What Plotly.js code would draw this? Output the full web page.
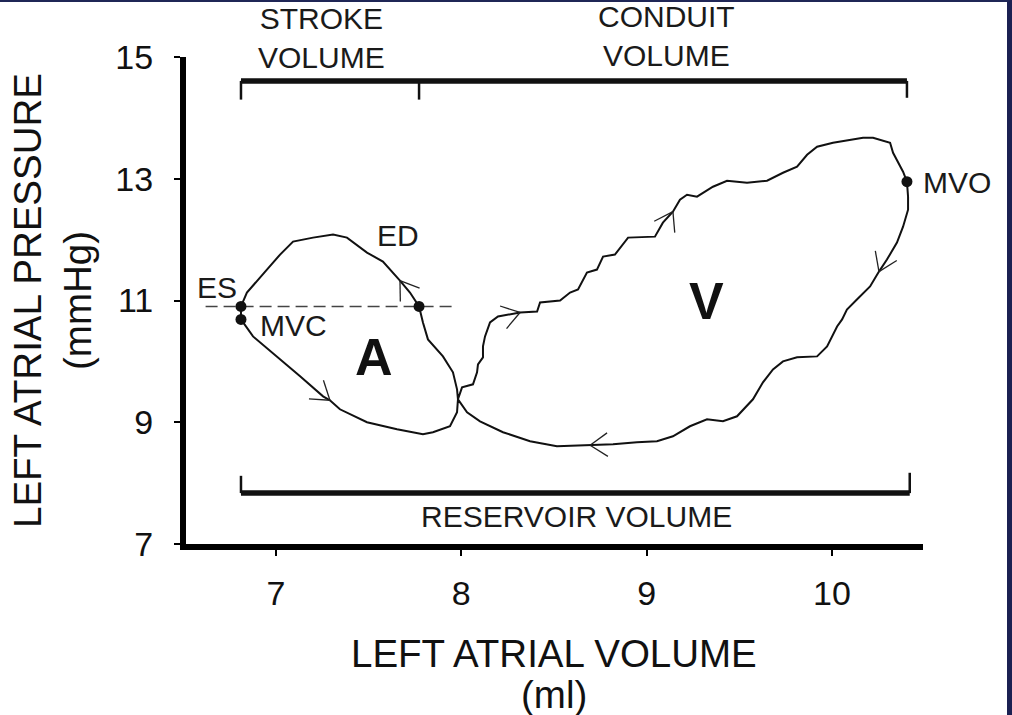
<!DOCTYPE html>
<html>
<head>
<meta charset="utf-8">
<script src="https://cdn.plot.ly/plotly-3.0.1.min.js"></script>
<style>
  html, body { margin: 0; padding: 0; background: #ffffff; }
  #chart { width: 1012px; height: 715px; }
  #frame { position: absolute; left: 0; top: 0; width: 1012px; height: 715px; box-sizing: border-box;
           border-top: 2px solid #1f2656; border-right: 5px solid #1b2052; pointer-events: none; }
</style>
</head>
<body>
<div id="chart"></div>
<div id="frame"></div>
<script>
// ---- data ----
// pressure-volume loop, in drawing order: MVO -> down the right side -> bottom (leftwards) ->
// crossing -> A loop (ED, ES, MVC) -> crossing -> top of V loop -> MVO
const loopVolume = [
  10.405, 10.411, 10.411, 10.384, 10.351, 10.297, 10.254, 10.206, 10.135, 10.081,
  10.055, 10.028, 9.974, 9.920, 9.812, 9.736, 9.682, 9.628, 9.574, 9.488,
  9.412, 9.326, 9.234, 9.142, 9.056, 8.948, 8.819, 8.695, 8.516, 8.371,
  8.225, 8.101, 8.031, 7.982,
  7.977, 7.955, 7.901, 7.820, 7.793, 7.772, 7.723, 7.669, 7.577, 7.491,
  7.383, 7.308, 7.200, 7.092, 7.022, 6.951, 6.843, 6.811, 6.811, 6.876,
  7.005, 7.130, 7.254, 7.291, 7.345, 7.491, 7.653, 7.793, 7.847, 7.939,
  7.977, 7.982,
  8.004, 8.063, 8.085, 8.090, 8.117, 8.117, 8.128, 8.155, 8.198, 8.317,
  8.409, 8.425, 8.533, 8.587, 8.630, 8.678, 8.732, 8.765, 8.829, 8.900,
  9.045, 9.088, 9.142, 9.180, 9.218, 9.272, 9.358, 9.434, 9.542, 9.650,
  9.736, 9.812, 9.866, 9.920, 10.006, 10.081, 10.168, 10.222, 10.314, 10.330,
  10.357, 10.384, 10.405
];
const loopPressure = [
  12.951, 12.705, 12.492, 12.213, 11.951, 11.672, 11.475, 11.230, 11.016, 10.852,
  10.689, 10.574, 10.246, 10.082, 10.066, 10.000, 9.869, 9.656, 9.377, 9.098,
  9.016, 9.049, 8.934, 8.770, 8.689, 8.672, 8.639, 8.623, 8.607, 8.689,
  8.836, 9.016, 9.164, 9.377,
  9.541, 9.820, 10.082, 10.361, 10.639, 10.902, 11.131, 11.328, 11.639, 11.787,
  12.033, 12.082, 12.033, 11.967, 11.754, 11.508, 11.131, 10.902, 10.689, 10.410,
  10.082, 9.754, 9.426, 9.361, 9.213, 9.000, 8.885, 8.803, 8.836, 8.934,
  9.164, 9.377,
  9.574, 9.623, 9.820, 9.951, 10.066, 10.246, 10.410, 10.639, 10.738, 10.803,
  10.820, 10.967, 11.000, 11.131, 11.180, 11.459, 11.508, 11.721, 11.754, 12.033,
  12.049, 12.279, 12.459, 12.656, 12.738, 12.705, 12.869, 12.967, 12.934, 12.967,
  13.098, 13.197, 13.393, 13.525, 13.590, 13.623, 13.672, 13.672, 13.590, 13.426,
  13.279, 13.115, 12.951
];

// marked events
const eventNames    = ['ES', 'MVC', 'ED', 'MVO'];
const eventVolume   = [6.811, 6.811, 7.772, 10.405];
const eventPressure = [10.902, 10.689, 10.902, 12.951];

// dashed reference line at the ES / ED pressure
const refVolume   = [6.62, 7.98];
const refPressure = [10.902, 10.902];

// direction arrows on the loop (tip position and travel direction, screen degrees)
const arrowVolume   = [10.254, 8.695, 7.669, 7.291, 8.317, 9.142];
const arrowPressure = [11.475, 8.623, 11.328, 9.361, 10.803, 12.459];
const arrowHeading  = [114, 178, 235, 38, -16, -61];

// axis ticks
const volumeTicks   = [7, 8, 9, 10];
const pressureTicks = [7, 9, 11, 13, 15];

// ---- layout constants ----
const W = 1012, H = 715;
const M = { l: 186, r: 89, t: 57, b: 171 };
const X_RANGE = [6.5143, 10.4916];
const Y_RANGE = [7, 15];
const plotW = W - M.l - M.r, plotH = H - M.t - M.b;
const pxPerX = plotW / (X_RANGE[1] - X_RANGE[0]);
const pxPerY = plotH / (Y_RANGE[1] - Y_RANGE[0]);

const FONT = 'Liberation Sans, Arial, Helvetica, sans-serif';
const INK = '#111111';

// chevron arrowheads built from the arrow data
const ARM = 21, HALF = 34;
const chevX = [], chevY = [];
arrowVolume.forEach((vx, i) => {
  const vy = arrowPressure[i];
  [1, -1].forEach(s => {
    const phi = (arrowHeading[i] + 180 + s * HALF) * Math.PI / 180;
    chevX.push(vx + ARM * Math.cos(phi) / pxPerX, vx, null);
    chevY.push(vy - ARM * Math.sin(phi) / pxPerY, vy, null);
  });
});

// volume brackets derived from the event volumes
const ES = 0, MVC = 1, ED = 2, MVO = 3;
const TOP_Y = 14.607, TOP_TICK = 14.30;
const BOT_Y = 7.836, BOT_TICK = 8.12;
const topBarX = [eventVolume[ES], eventVolume[MVO]];
const topTicksX = [eventVolume[ES], eventVolume[ES], null, eventVolume[ED], eventVolume[ED], null, eventVolume[MVO], eventVolume[MVO]];
const topTicksY = [TOP_Y, TOP_TICK, null, TOP_Y, TOP_TICK, null, TOP_Y, TOP_TICK + 0.03];
const botBarX = [eventVolume[MVC], eventVolume[MVO] + 0.015];
const botTicksX = [eventVolume[MVC], eventVolume[MVC], null, eventVolume[MVO] + 0.015, eventVolume[MVO] + 0.015];
const botTicksY = [BOT_Y, BOT_TICK, null, BOT_Y, BOT_TICK + 0.05];

const traces = [
  { x: loopVolume, y: loopPressure, mode: 'lines', line: { color: INK, width: 2 }, hoverinfo: 'skip' },
  { x: refVolume, y: refPressure, mode: 'lines', line: { color: '#444', width: 1.6, dash: '12px,6px' }, hoverinfo: 'skip' },
  { x: chevX, y: chevY, mode: 'lines', line: { color: '#222', width: 1.3 }, hoverinfo: 'skip' },
  { x: topBarX, y: [TOP_Y, TOP_Y], mode: 'lines', line: { color: INK, width: 5.5 }, hoverinfo: 'skip', cliponaxis: false },
  { x: topTicksX, y: topTicksY, mode: 'lines', line: { color: INK, width: 2.5 }, hoverinfo: 'skip', cliponaxis: false },
  { x: botBarX, y: [BOT_Y, BOT_Y], mode: 'lines', line: { color: INK, width: 5.5 }, hoverinfo: 'skip' },
  { x: botTicksX, y: botTicksY, mode: 'lines', line: { color: INK, width: 2.5 }, hoverinfo: 'skip' },
  { x: eventVolume, y: eventPressure, mode: 'markers', marker: { color: INK, size: 11 }, hoverinfo: 'skip', cliponaxis: false }
];

const labelFont = { family: FONT, size: 30, color: '#1a1a1a' };
const bigFont = { family: FONT, size: 52, color: INK, weight: 700 };
const titleFont = { family: FONT, size: 38.5, color: INK };
// helpers: place a label at a pixel-measured spot through paper coordinates
const px2paperX = px => (px - M.l) / plotW;
const px2paperY = py => (H - M.b - py) / plotH;
function note(text, x, y, font, extra) {
  return Object.assign({ text, x, y, xref: 'x', yref: 'y', showarrow: false, font,
                         xanchor: 'center', yanchor: 'middle' }, extra || {});
}
const annotations = [
  note(eventNames[ES], 6.682, 11.213, labelFont),
  note(eventNames[MVC], 7.097, 10.590, labelFont),
  note(eventNames[ED], 7.658, 12.066, labelFont),
  note(eventNames[MVO], px2paperX(957), 12.943, labelFont, { xref: 'paper' }),
  note('A', 7.529, 10.074, bigFont),
  note('V', 9.321, 11.000, bigFont),
  note('STROKE<br>VOLUME', px2paperX(321), px2paperY(38), labelFont, { xref: 'paper', yref: 'paper' }),
  note('CONDUIT<br>VOLUME', px2paperX(666), px2paperY(36), labelFont, { xref: 'paper', yref: 'paper' }),
  note('RESERVOIR VOLUME', 8.619, 7.451, labelFont),
  // x-axis title, two lines placed separately so the units line stays inside the page
  note('LEFT ATRIAL VOLUME', px2paperX(554), px2paperY(653), titleFont, { xref: 'paper', yref: 'paper' }),
  note('(ml)', px2paperX(554), px2paperY(694), titleFont, { xref: 'paper', yref: 'paper' })
];

const axisCommon = {
  showline: true, linewidth: 6, linecolor: '#000', mirror: false,
  ticks: 'outside', ticklen: 6, tickwidth: 2, tickcolor: '#000',
  showgrid: false, zeroline: false, fixedrange: true,
  tickfont: { family: FONT, size: 34, color: INK }
};

const layout = {
  width: W, height: H, margin: M,
  paper_bgcolor: '#ffffff', plot_bgcolor: '#ffffff',
  showlegend: false, hovermode: false,
  xaxis: Object.assign({}, axisCommon, {
    range: X_RANGE, tickmode: 'array', tickvals: volumeTicks, ticktext: volumeTicks.map(String),
    ticklabelstandoff: 8
  }),
  yaxis: Object.assign({}, axisCommon, {
    range: Y_RANGE, tickmode: 'array', tickvals: pressureTicks, ticktext: pressureTicks.map(String),
    ticklabelstandoff: 14,
    title: { text: 'LEFT ATRIAL PRESSURE<br>(mmHg)', font: titleFont, standoff: 14 }
  }),
  annotations
};

Plotly.newPlot('chart', traces, layout, { displayModeBar: false, staticPlot: true });
</script>
</body>
</html>
